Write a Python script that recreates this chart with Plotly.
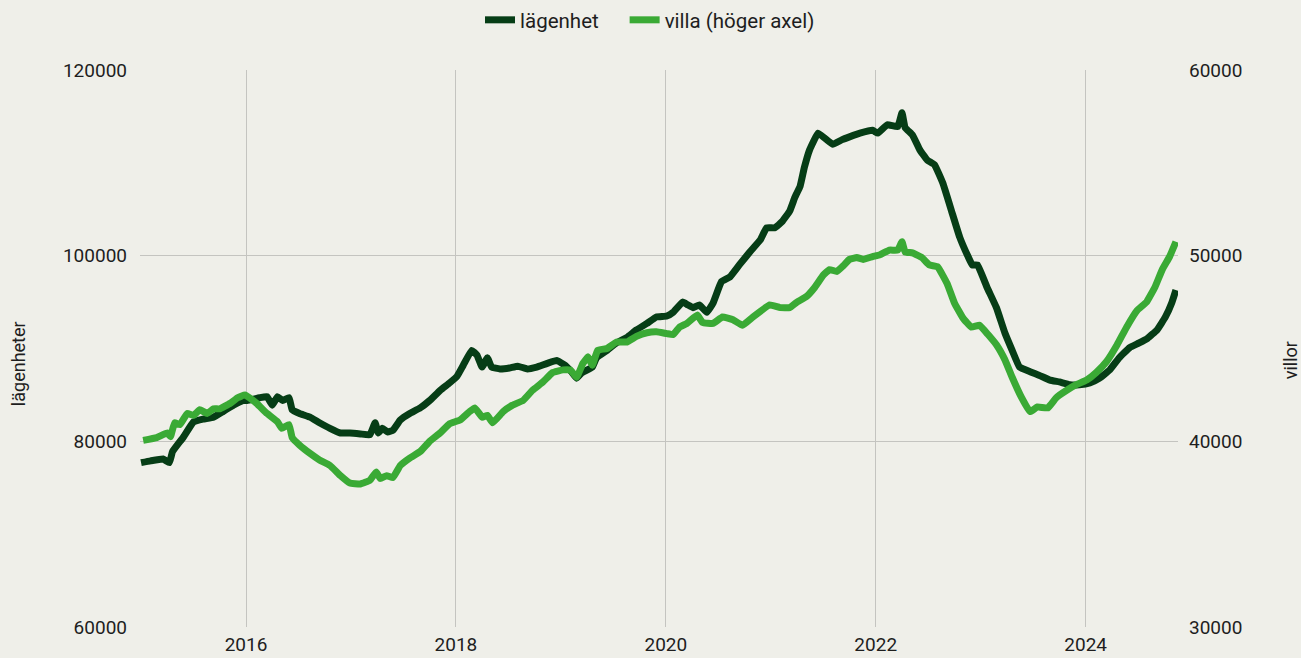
import plotly.graph_objects as go

# Decimal-year positions and values
lag_x = [2015.00, 2015.09, 2015.21, 2015.27, 2015.30, 2015.40, 2015.50, 2015.59, 2015.69, 2015.78,
         2015.88, 2015.97, 2016.01, 2016.13, 2016.20, 2016.25, 2016.30, 2016.35, 2016.41, 2016.44,
         2016.51, 2016.61, 2016.70, 2016.80, 2016.90, 2016.99, 2017.09, 2017.18, 2017.23, 2017.26,
         2017.30, 2017.35, 2017.40, 2017.47, 2017.56, 2017.66, 2017.75, 2017.85, 2017.94, 2018.01,
         2018.07, 2018.15, 2018.20, 2018.25, 2018.30, 2018.34, 2018.42, 2018.51, 2018.59, 2018.68,
         2018.77, 2018.87, 2018.96, 2019.04, 2019.10, 2019.15, 2019.20, 2019.30, 2019.34, 2019.44,
         2019.53, 2019.63, 2019.72, 2019.82, 2019.91, 2020.01, 2020.07, 2020.16, 2020.21, 2020.26,
         2020.32, 2020.39, 2020.45, 2020.53, 2020.61, 2020.70, 2020.80, 2020.90, 2020.96, 2021.04,
         2021.11, 2021.18, 2021.23, 2021.28, 2021.32, 2021.37, 2021.45, 2021.51, 2021.59, 2021.68,
         2021.75, 2021.85, 2021.97, 2022.02, 2022.11, 2022.21, 2022.25, 2022.28, 2022.35, 2022.42,
         2022.49, 2022.56, 2022.64, 2022.72, 2022.80, 2022.88, 2022.92, 2022.97, 2023.06, 2023.15,
         2023.23, 2023.30, 2023.37, 2023.47, 2023.56, 2023.66, 2023.75, 2023.85, 2023.94, 2024.04,
         2024.13, 2024.23, 2024.32, 2024.42, 2024.51, 2024.59, 2024.68, 2024.76, 2024.82, 2024.86]
lagenhet = [77700, 77900, 78100, 77700, 78900, 80400, 82100, 82400, 82600, 83200,
            83900, 84400, 84400, 84700, 84800, 83900, 84800, 84400, 84700, 83400,
            83000, 82600, 82000, 81400, 80900, 80900, 80800, 80700, 82000, 80900,
            81400, 81000, 81200, 82300, 83000, 83600, 84400, 85500, 86300, 87000,
            88200, 89800, 89300, 88000, 89000, 88000, 87800, 87900, 88100, 87800,
            88000, 88400, 88700, 88200, 87500, 86800, 87400, 88000, 89000, 89800,
            90600, 91200, 92000, 92700, 93400, 93500, 93900, 95000, 94700, 94400,
            94700, 93900, 94900, 97200, 97700, 99000, 100400, 101700, 103000, 103000,
            103700, 104800, 106300, 107500, 109500, 111400, 113200, 112700, 112000, 112500,
            112800, 113200, 113500, 113200, 114100, 113900, 115400, 113800, 113000, 111400,
            110300, 109800, 107800, 104900, 102000, 99900, 99000, 99000, 96600, 94400,
            91700, 89800, 88000, 87500, 87100, 86600, 86400, 86100, 86100, 86300,
            86800, 87700, 89000, 90100, 90600, 91100, 92000, 93400, 94900, 96300]

villa_x = [2015.02, 2015.15, 2015.25, 2015.28, 2015.32, 2015.37, 2015.44, 2015.50, 2015.56, 2015.63,
           2015.69, 2015.75, 2015.85, 2015.92, 2015.99, 2016.10, 2016.20, 2016.30, 2016.34, 2016.41,
           2016.44, 2016.51, 2016.61, 2016.70, 2016.80, 2016.90, 2016.99, 2017.09, 2017.18, 2017.24,
           2017.28, 2017.34, 2017.40, 2017.47, 2017.56, 2017.66, 2017.75, 2017.85, 2017.94, 2018.04,
           2018.13, 2018.18, 2018.25, 2018.30, 2018.35, 2018.45, 2018.54, 2018.64, 2018.73, 2018.83,
           2018.92, 2019.02, 2019.09, 2019.15, 2019.21, 2019.26, 2019.30, 2019.35, 2019.44, 2019.53,
           2019.63, 2019.72, 2019.82, 2019.91, 2020.01, 2020.07, 2020.13, 2020.20, 2020.30, 2020.35,
           2020.45, 2020.54, 2020.64, 2020.73, 2020.83, 2020.99, 2021.09, 2021.18, 2021.25, 2021.34,
           2021.42, 2021.50, 2021.56, 2021.63, 2021.69, 2021.75, 2021.82, 2021.88, 2021.97, 2022.04,
           2022.13, 2022.21, 2022.25, 2022.28, 2022.35, 2022.44, 2022.51, 2022.59, 2022.68, 2022.75,
           2022.83, 2022.91, 2022.99, 2023.07, 2023.15, 2023.23, 2023.30, 2023.39, 2023.47, 2023.54,
           2023.64, 2023.72, 2023.82, 2023.91, 2024.01, 2024.10, 2024.20, 2024.30, 2024.39, 2024.49,
           2024.58, 2024.66, 2024.73, 2024.80, 2024.86]
villa = [40050, 40200, 40450, 40250, 41000, 40900, 41500, 41400, 41700, 41500,
         41750, 41750, 42050, 42350, 42500, 42050, 41500, 41050, 40700, 40900,
         40200, 39800, 39350, 39000, 38700, 38150, 37750, 37700, 37900, 38350,
         38000, 38150, 38050, 38700, 39100, 39450, 40000, 40450, 40950, 41150,
         41600, 41800, 41300, 41400, 41000, 41600, 41950, 42200, 42750, 43200,
         43700, 43850, 43850, 43450, 44200, 44550, 44100, 44900, 45000, 45350,
         45350, 45650, 45850, 45900, 45800, 45750, 46150, 46350, 46800, 46400,
         46350, 46700, 46550, 46250, 46700, 47350, 47200, 47200, 47500, 47800,
         48300, 48950, 49250, 49150, 49450, 49800, 49900, 49800, 49950, 50050,
         50300, 50300, 50750, 50200, 50150, 49900, 49500, 49400, 48500, 47450,
         46650, 46150, 46250, 45750, 45200, 44400, 43450, 42350, 41600, 41850,
         41800, 42350, 42750, 43050, 43300, 43700, 44300, 45200, 46150, 47050,
         47500, 48300, 49250, 49950, 50750]

year_ticks = [2016, 2018, 2020, 2022, 2024]
left_ticks = [60000, 80000, 100000, 120000]
right_ticks = [30000, 40000, 50000, 60000]

DARK = "#063d16"
LIGHT = "#3aaa35"
BG = "#efefe9"
GRID = "#c4c4c0"
TXT = "#1e1e1e"

fig = go.Figure()
fig.add_trace(go.Scatter(x=lag_x, y=lagenhet, name="lägenhet\u2003", mode="lines",
                         line=dict(color=DARK, width=7, shape="spline", smoothing=0.3), yaxis="y"))
fig.add_trace(go.Scatter(x=villa_x, y=villa, name="villa (höger axel)", mode="lines",
                         line=dict(color=LIGHT, width=7, shape="spline", smoothing=0.3), yaxis="y2"))

fig.update_layout(
    width=1301, height=658,
    paper_bgcolor=BG, plot_bgcolor=BG,
    margin=dict(l=140, r=123, t=70, b=31, autoexpand=False),
    font=dict(family="Roboto", size=19, color=TXT),
    showlegend=True,
    legend=dict(orientation="h", x=(480 - 140) / 1038, xanchor="left", y=1.0, yanchor="top",
                yref="container", font=dict(size=20.5, color=TXT), bgcolor="rgba(0,0,0,0)"),
    xaxis=dict(range=[2014.99, 2024.88], tickvals=year_ticks, ticktext=[str(t) for t in year_ticks],
               showgrid=True, gridcolor=GRID, gridwidth=1.3, zeroline=False, showline=False,
               ticks="", ticklabelstandoff=4, automargin=False, tickfont=dict(size=19, color=TXT)),
    yaxis=dict(range=[60000, 120000], tickvals=left_ticks, ticktext=[str(t) for t in left_ticks],
               showgrid=True, gridcolor=GRID, gridwidth=1.3, zeroline=False, showline=False,
               ticks="", ticklabelstandoff=12, automargin=False),
    yaxis2=dict(range=[30000, 60000], tickvals=right_ticks, ticktext=[str(t) for t in right_ticks],
                overlaying="y", side="right", showgrid=False, zeroline=False, showline=False,
                ticks="", ticklabelstandoff=10, automargin=False),
    annotations=[
        dict(text="lägenheter", xref="paper", yref="paper", x=-0.1175, y=0.472,
             xanchor="center", yanchor="middle", textangle=-90, showarrow=False,
             font=dict(size=18, color=TXT)),
        dict(text="villor", xref="paper", yref="paper", x=1.108, y=0.479,
             xanchor="center", yanchor="middle", textangle=-90, showarrow=False,
             font=dict(size=18, color=TXT)),
    ],
)

post = ("document.body.style.margin='0';document.body.style.padding='0';"
        "document.body.style.overflow='hidden';document.body.style.background='%s';"
        "document.documentElement.style.background='%s';" % (BG, BG))
fig.write_html("out.html", post_script=post, config={"displayModeBar": False})
